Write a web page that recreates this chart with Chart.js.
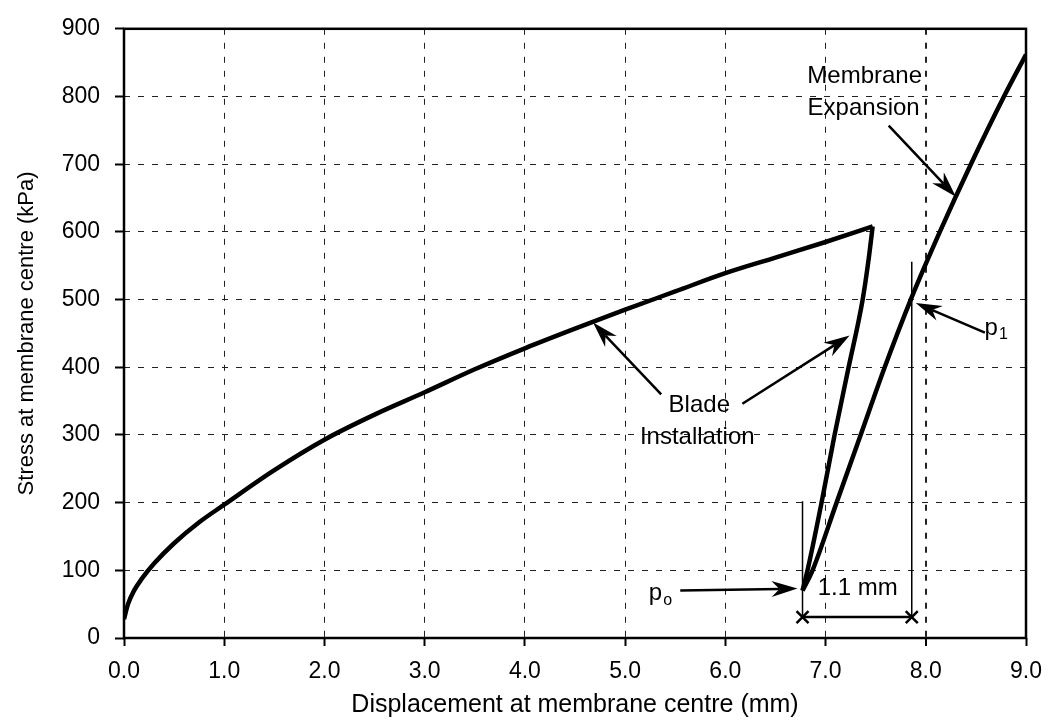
<!DOCTYPE html>
<html>
<head>
<meta charset="utf-8">
<script src="https://cdn.jsdelivr.net/npm/chart.js"></script>
<style>
  html, body { margin: 0; padding: 0; background: #fff; }
  #wrap { width: 1054px; height: 724px; }
</style>
</head>
<body>
<div id="wrap"><canvas id="chart" width="1054" height="724"></canvas></div>
<script>
// Blade installation - loading branch
const loadDisp = [0.0, 0.04, 0.1, 0.18, 0.3, 0.5, 0.75, 1.0, 1.5, 2.0, 2.5, 3.0, 3.5, 4.0, 4.5, 5.0, 5.5, 6.0, 6.5, 7.0, 7.47];
const loadStress = [28, 50, 70, 88, 110, 140, 171, 197, 248, 293, 330, 363, 397, 428, 457, 485, 512, 539, 562, 585, 608];
// Blade installation - unloading, p0 up to the peak
const unloadDisp = [6.77, 6.82, 6.96, 7.09, 7.23, 7.37, 7.43, 7.47];
const unloadStress = [70, 100, 200, 300, 400, 500, 560, 608];
// Membrane expansion
const expDisp = [6.77, 6.87, 7.11, 7.35, 7.59, 7.85, 8.14, 8.45, 8.78, 9.0];
const expStress = [70, 100, 200, 300, 400, 500, 600, 700, 800, 862];

const xTicks = [0, 1, 2, 3, 4, 5, 6, 7, 8, 9];
const xTickLabels = ['0.0', '1.0', '2.0', '3.0', '4.0', '5.0', '6.0', '7.0', '8.0', '9.0'];
const yTicks = [0, 100, 200, 300, 400, 500, 600, 700, 800, 900];
const yTickLabels = ['0', '100', '200', '300', '400', '500', '600', '700', '800', '900'];

// p0 / p1 displacement marks
const p0Disp = 6.77;
const p1Disp = 7.86;

const FONT = '"Liberation Sans", Arial, sans-serif';

const toPoints = (xs, ys) => xs.map((v, i) => ({ x: v, y: ys[i] }));

// annotation text and arrows, in data units
const notes = [
    { text: 'Blade', x: 5.74, y: 343 },
    { text: 'Installation', x: 5.72, y: 296 },
    { text: 'Membrane', x: 7.39, y: 829 },
    { text: 'Expansion', x: 7.38, y: 782 },
    { text: '1.1 mm', x: 7.32, y: 74 }
];
const subNotes = [
    { main: 'p', sub: '1', x: 8.72, y: 458 },
    { main: 'p', sub: 'o', x: 5.37, y: 66 }
];
const arrows = [
    { from: [5.36, 360], to: [4.68, 466] },
    { from: [6.17, 346], to: [7.24, 447] },
    { from: [8.59, 451], to: [7.90, 495] },
    { from: [5.55, 70], to: [6.72, 73] },
    { from: [7.63, 757], to: [8.30, 652] }
];

function drawArrow(ctx, x1, y1, x2, y2) {
    const ang = Math.atan2(y2 - y1, x2 - x1);
    const len = 26, half = 8, notch = 8;
    ctx.lineWidth = 2.5;
    ctx.beginPath();
    ctx.moveTo(x1, y1);
    ctx.lineTo(x2 - Math.cos(ang) * (len - notch), y2 - Math.sin(ang) * (len - notch));
    ctx.stroke();
    ctx.save();
    ctx.translate(x2, y2);
    ctx.rotate(ang);
    ctx.beginPath();
    ctx.moveTo(0, 0);
    ctx.lineTo(-len, -half);
    ctx.lineTo(-len + notch, 0);
    ctx.lineTo(-len, half);
    ctx.closePath();
    ctx.fill();
    ctx.restore();
}

function drawCross(ctx, cx, cy) {
    const r = 6;
    ctx.lineWidth = 2.5;
    ctx.beginPath();
    ctx.moveTo(cx - r, cy - r); ctx.lineTo(cx + r, cy + r);
    ctx.moveTo(cx - r, cy + r); ctx.lineTo(cx + r, cy - r);
    ctx.stroke();
}

const annotate = {
    id: 'annotate',
    afterDatasetsDraw(chart) {
        const { ctx, chartArea: a, scales: { x, y } } = chart;
        const px = v => x.getPixelForValue(v);
        const py = v => y.getPixelForValue(v);
        ctx.save();
        ctx.strokeStyle = '#000';
        ctx.fillStyle = '#000';

        // plot frame
        ctx.lineWidth = 2.5;
        ctx.strokeRect(a.left, a.top, a.width, a.height);

        // 1.1 mm dimension
        ctx.lineWidth = 1.5;
        ctx.beginPath();
        ctx.moveTo(px(p0Disp), py(202)); ctx.lineTo(px(p0Disp), py(31));
        ctx.moveTo(px(p1Disp), py(556)); ctx.lineTo(px(p1Disp), py(31));
        ctx.stroke();
        ctx.lineWidth = 2.5;
        ctx.beginPath();
        ctx.moveTo(px(p0Disp), py(31)); ctx.lineTo(px(p1Disp), py(31));
        ctx.stroke();
        drawCross(ctx, px(p0Disp), py(31));
        drawCross(ctx, px(p1Disp), py(31));

        arrows.forEach(ar => drawArrow(ctx, px(ar.from[0]), py(ar.from[1]), px(ar.to[0]), py(ar.to[1])));

        ctx.font = '24px ' + FONT;
        ctx.textAlign = 'center';
        ctx.textBaseline = 'middle';
        notes.forEach(n => ctx.fillText(n.text, px(n.x), py(n.y)));

        subNotes.forEach(n => {
            ctx.font = '24px ' + FONT;
            ctx.textAlign = 'right';
            ctx.fillText(n.main, px(n.x), py(n.y));
            ctx.font = '16px ' + FONT;
            ctx.textAlign = 'left';
            ctx.fillText(n.sub, px(n.x) + 1, py(n.y) + 7);
        });
        ctx.restore();
    }
};

const lineStyle = {
    borderColor: '#000',
    borderWidth: 4.5,
    pointRadius: 0,
    fill: false,
    cubicInterpolationMode: 'monotone'
};

new Chart(document.getElementById('chart'), {
    type: 'line',
    data: {
        datasets: [
            { label: 'Blade installation', data: toPoints(loadDisp, loadStress), ...lineStyle },
            { label: 'Unloading', data: toPoints(unloadDisp, unloadStress), ...lineStyle },
            { label: 'Membrane expansion', data: toPoints(expDisp, expStress), ...lineStyle }
        ]
    },
    options: {
        responsive: false,
        animation: false,
        layout: { padding: { top: 23, right: 21, left: 0, bottom: 0 } },
        plugins: {
            legend: { display: false },
            tooltip: { enabled: false }
        },
        scales: {
            x: {
                type: 'linear',
                min: 0,
                max: 9,
                afterBuildTicks: s => { s.ticks = xTicks.map(v => ({ value: v })); },
                afterFit: s => { s.height = 86; },
                ticks: {
                    color: '#000',
                    font: { family: FONT, size: 23 },
                    padding: 12,
                    maxRotation: 0,
                    callback: v => xTickLabels[xTicks.indexOf(v)]
                },
                grid: {
                    color: '#222',
                    lineWidth: ctx => (ctx.tick && ctx.tick.value === 8 ? 2 : 1),
                    tickLength: 8,
                    tickColor: '#000',
                    tickWidth: 2,
                    tickBorderDash: []
                },
                border: { display: false, dash: [6, 8] },
                title: {
                    display: true,
                    text: 'Displacement at membrane centre (mm)',
                    color: '#000',
                    font: { family: FONT, size: 25 },
                    padding: { top: 0, bottom: 4 }
                }
            },
            y: {
                min: 0,
                max: 900,
                afterBuildTicks: s => { s.ticks = yTicks.map(v => ({ value: v })); },
                afterFit: s => { s.width = 124; },
                ticks: {
                    color: '#000',
                    font: { family: FONT, size: 23 },
                    padding: 15,
                    callback: v => yTickLabels[yTicks.indexOf(v)]
                },
                grid: {
                    color: '#222',
                    lineWidth: 1,
                    tickLength: 9,
                    tickColor: '#000',
                    tickWidth: 2,
                    tickBorderDash: []
                },
                border: { display: false, dash: [6, 8] },
                title: {
                    display: true,
                    text: 'Stress at membrane centre (kPa)',
                    color: '#000',
                    font: { family: FONT, size: 22 },
                    padding: { top: 14, bottom: 0 }
                }
            }
        }
    },
    plugins: [annotate]
});
</script>
</body>
</html>
